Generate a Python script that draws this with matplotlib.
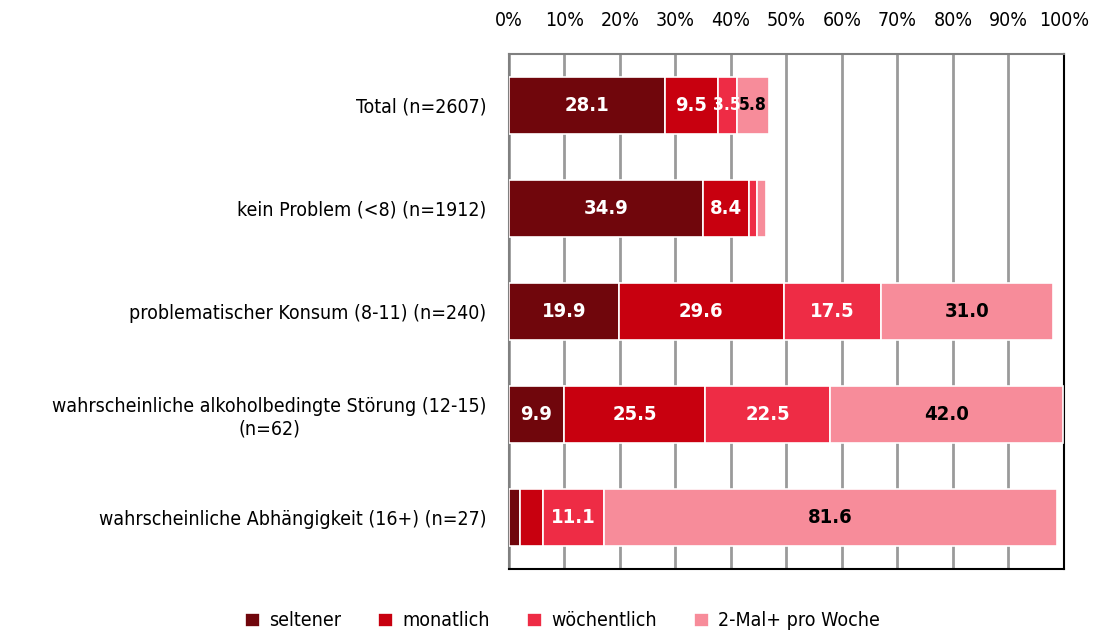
import matplotlib
matplotlib.use("Agg")
import matplotlib.pyplot as plt
from matplotlib import font_manager
import numpy as np

# Arial Narrow look-alike: pick a condensed face if one is installed
narrow = None
for f in font_manager.fontManager.ttflist:
    if "Narrow" in f.name or ("DejaVu Sans" in f.name and f.stretch == "condensed"):
        narrow = f.name
        break
plt.rcParams['font.family'] = [narrow or 'DejaVu Sans', 'DejaVu Sans']
plt.rcParams['font.stretch'] = 'condensed'

# === Data ===
categories = [
    "Total (n=2607)",
    "kein Problem (<8) (n=1912)",
    "problematischer Konsum (8-11) (n=240)",
    "wahrscheinliche alkoholbedingte Störung (12-15)\n(n=62)",
    "wahrscheinliche Abhängigkeit (16+) (n=27)",
]
series_names = ["seltener", "monatlich", "wöchentlich", "2-Mal+ pro Woche"]
seltener = [28.1, 34.9, 19.9, 9.9, 2.1]
monatlich = [9.5, 8.4, 29.6, 25.5, 4.0]
woechentlich = [3.5, 1.4, 17.5, 22.5, 11.1]
zwei_mal = [5.8, 1.6, 31.0, 42.0, 81.6]
# labels shown per segment (None = no label)
lbl_seltener = ["28.1", "34.9", "19.9", "9.9", None]
lbl_monatlich = ["9.5", "8.4", "29.6", "25.5", None]
lbl_woechentlich = ["3.5", None, "17.5", "22.5", "11.1"]
lbl_zwei_mal = ["5.8", None, "31.0", "42.0", "81.6"]
xticks = list(range(0, 101, 10))

colors = ["#70060C", "#C8000F", "#EE2C45", "#F78C9A"]
text_colors = ["white", "white", "white", "black"]

fig = plt.figure(figsize=(10.99, 6.34), dpi=100)
ax = fig.add_axes([0.463, 0.1025, 0.505, 0.8125])

y = np.arange(len(categories))
left = np.zeros(len(categories))
all_series = [seltener, monatlich, woechentlich, zwei_mal]
all_labels = [lbl_seltener, lbl_monatlich, lbl_woechentlich, lbl_zwei_mal]
for vals, labels, name, col, tcol in zip(all_series, all_labels, series_names, colors, text_colors):
    vals = np.array(vals)
    ax.barh(y, vals, left=left, height=0.56, color=col, edgecolor="white",
            linewidth=1.2, label=name, zorder=3)
    for yi, v, l, lab in zip(y, vals, left, labels):
        if lab:
            # narrow segments get a slightly smaller label so they don't collide
            fs = 12.5 if v < 6 else 14.5
            ax.text(l + v / 2, yi, lab, ha="center", va="center", color=tcol,
                    fontsize=fs, fontweight="bold", zorder=4)
    left += vals

ax.set_xlim(0, 100)
ax.set_ylim(len(categories) - 0.5, -0.5)
ax.set_xticks(xticks)
ax.set_xticklabels([f"{t}%" for t in xticks])
ax.xaxis.tick_top()
ax.tick_params(axis="x", length=0, pad=17, labelsize=14)
ax.set_yticks(y)
ax.set_yticklabels(categories, ha="right", multialignment="center")
ax.tick_params(axis="y", length=0, labelsize=14, pad=16)
ax.grid(axis="x", color="#9a9a9a", linewidth=2, zorder=0)

ax.spines["top"].set_color("#808080")
ax.spines["left"].set_color("#808080")
ax.spines["bottom"].set_color("black")
ax.spines["right"].set_color("black")
for s in ax.spines.values():
    s.set_linewidth(1.5)

fig.legend(loc="lower center", bbox_to_anchor=(0.512, -0.022), ncol=4, frameon=False,
           fontsize=14, handlelength=0.75, handleheight=0.75, handletextpad=0.5,
           columnspacing=1.9)

fig.savefig("out.png", dpi=100)
